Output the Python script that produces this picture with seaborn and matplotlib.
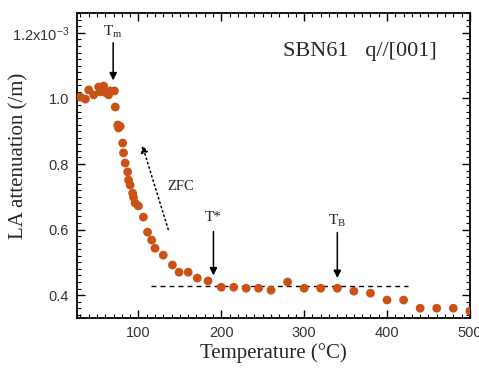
import matplotlib
matplotlib.use("Agg")
import matplotlib.pyplot as plt
import seaborn as sns
import pandas as pd
from matplotlib.ticker import MultipleLocator, FixedLocator, FixedFormatter

# ---- data (attenuation in units of 1e-3 /m) ----
temperature = [30, 36, 40, 46, 52, 54, 58, 61, 64, 66, 71,
               72, 75, 76, 78, 81, 82, 84, 87, 88, 90, 93, 94, 96, 100,
               106, 111, 116, 120, 130, 141, 149, 160, 171, 184,
               200, 215, 230, 245, 260, 280, 300, 320, 340, 360, 380,
               400, 420, 440, 460, 480, 500]
attenuation = [1.004, 0.998, 1.026, 1.011, 1.035, 1.020, 1.038, 1.017, 1.011, 1.023, 1.023,
               0.974, 0.919, 0.910, 0.915, 0.864, 0.834, 0.803, 0.776, 0.751, 0.736, 0.711, 0.699, 0.681, 0.672,
               0.638, 0.592, 0.568, 0.543, 0.522, 0.492, 0.470, 0.470, 0.452, 0.443,
               0.424, 0.424, 0.421, 0.421, 0.415, 0.440, 0.421, 0.421, 0.421, 0.412, 0.406,
               0.385, 0.385, 0.360, 0.360, 0.360, 0.351]

y_ticks = [0.4, 0.6, 0.8, 1.0, 1.2]
y_ticklabels = ["0.4", "0.6", "0.8", "1.0", r"$\mathsf{1.2x10^{-3}}$"]
x_ticks = [100, 200, 300, 400, 500]
x_ticklabels = ["100", "200", "300", "400", "500"]

baseline_T = [115, 425]
baseline_val = [0.428, 0.428]

df = pd.DataFrame({"T": temperature, "A": attenuation})

sns.set_theme(style="ticks")
plt.rcParams["font.family"] = ["Liberation Serif", "DejaVu Serif"]
plt.rcParams["mathtext.fontset"] = "custom"
plt.rcParams["mathtext.rm"] = "Liberation Serif"
plt.rcParams["mathtext.sf"] = "Liberation Sans"

fig = plt.figure(figsize=(4.79, 3.69), dpi=100)
ax = fig.add_axes([0.161, 0.138, 0.82, 0.827])

sns.scatterplot(data=df, x="T", y="A", ax=ax, color="#CA5216", s=40,
                edgecolor="none", linewidth=0, zorder=3, legend=False)

ax.plot(baseline_T, baseline_val, color="black", lw=1.0, dashes=(3.5, 3), zorder=2)

ax.set_xlim(26, 500)
ax.set_ylim(0.33, 1.261)

ax.xaxis.set_major_locator(FixedLocator(x_ticks))
ax.xaxis.set_major_formatter(FixedFormatter(x_ticklabels))
ax.xaxis.set_minor_locator(MultipleLocator(10))
ax.yaxis.set_major_locator(FixedLocator(y_ticks))
ax.yaxis.set_major_formatter(FixedFormatter(y_ticklabels))
ax.yaxis.set_minor_locator(MultipleLocator(0.02))

ax.tick_params(which="both", direction="in", top=True, right=True, color="black")
ax.tick_params(which="major", length=6, width=1.0, labelsize=10.5, pad=6)
ax.tick_params(which="minor", length=3, width=0.8)
for lab in ax.get_xticklabels() + ax.get_yticklabels():
    lab.set_fontfamily("Liberation Sans")
    lab.set_color("#333333")
for sp in ax.spines.values():
    sp.set_linewidth(1.3)
    sp.set_color("black")

ax.set_xlabel("Temperature (°C)", fontsize=15, labelpad=2)
ax.set_ylabel("LA attenuation (/m)", fontsize=15)
ax.yaxis.set_label_coords(-0.125, 0.53)

ax.text(0.916, 0.872, "SBN61   q//[001]", transform=ax.transAxes, ha="right",
        va="center", fontsize=16)

arrow_kw = dict(arrowstyle="-|>", color="black", lw=1.1, mutation_scale=11,
                shrinkA=0, shrinkB=0)
ax.annotate("", xy=(69.5, 1.055), xytext=(69.5, 1.17), arrowprops=arrow_kw)
ax.text(69.5, 1.205, r"T$_\mathrm{m}$", ha="center", va="center", fontsize=11)
ax.annotate("", xy=(190.5, 0.46), xytext=(190.5, 0.594), arrowprops=arrow_kw)
ax.text(190.5, 0.637, "T*", ha="center", va="center", fontsize=11)
ax.annotate("", xy=(340, 0.452), xytext=(340, 0.591), arrowprops=arrow_kw)
ax.text(340, 0.627, r"T$_\mathrm{B}$", ha="center", va="center", fontsize=11)

ax.annotate("", xy=(104.5, 0.858), xytext=(136, 0.6),
            arrowprops=dict(arrowstyle="-|>", color="black", lw=1.1, ls=(0, (1, 2)),
                            mutation_scale=11, shrinkA=0, shrinkB=0))
ax.text(135, 0.73, "ZFC", ha="left", va="center", fontsize=10.5)

fig.savefig("out.png", dpi=100)
